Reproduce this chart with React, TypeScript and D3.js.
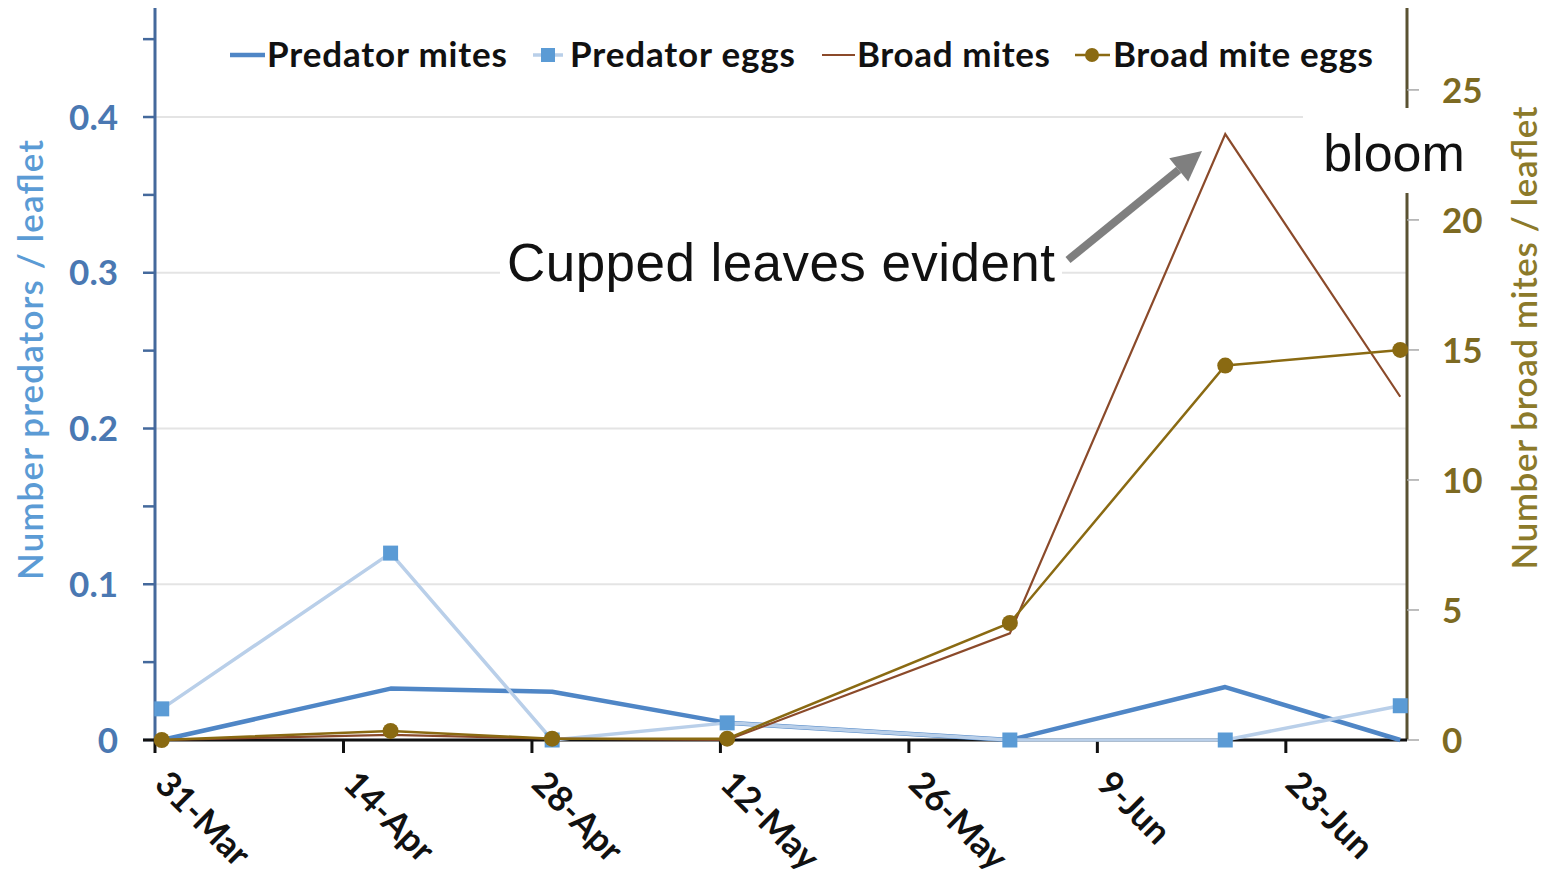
import React from "react";
import * as d3 from "d3";

// ---- data ----
const sampleDates = ["31-Mar-2019", "17-Apr-2019", "29-Apr-2019", "12-May-2019", "2-Jun-2019", "18-Jun-2019", "1-Jul-2019"];
const predatorMites = [0, 0.033, 0.031, 0.011, 0, 0.034, 0];
const predatorEggs = [0.02, 0.12, 0, 0.011, 0, 0, 0.022];
const broadMites = [0, 0.2, 0.05, 0, 4.1, 23.3, 13.2];
const broadMiteEggs = [0, 0.35, 0.05, 0.05, 4.5, 14.4, 15.0];
const xTickLabels = ["31-Mar", "14-Apr", "28-Apr", "12-May", "26-May", "9-Jun", "23-Jun"];
const leftTickValues = [0, 0.1, 0.2, 0.3, 0.4];
const leftMinorTicks = [0, 0.05, 0.1, 0.15, 0.2, 0.25, 0.3, 0.35, 0.4, 0.45];
const rightTickValues = [0, 5, 10, 15, 20, 25];
const legendLabels = ["Predator mites", "Predator eggs", "Broad mites", "Broad mite eggs"];
const axisStart = "31-Mar-2019";
const axisEnd = "2-Jul-2019";
const leftMax = 0.47;
const rightMax = 28.15;

const parse = d3.timeParse("%d-%b-%Y");

const W = 1551;
const H = 879;
const X0 = 155;
const X1 = 1407;
const Y0 = 740;
const Y1 = 8;

const C = {
  predMites: "#4f86c6",
  predEggsLine: "#b9cfe9",
  predEggsMark: "#5b9bd5",
  broadMites: "#8b4a2a",
  broadEggs: "#8a6a12",
  leftAxis: "#44699c",
  leftLabel: "#4a78b2",
  leftTitle: "#5b9bd5",
  rightAxis: "#5a5232",
  rightLabel: "#7d6a22",
  rightTitle: "#8c7a2a",
  grid: "#e4e4e4",
};

const FONT = "Lato, 'Noto Sans', sans-serif";
const ARIAL = "'Liberation Sans', Arial, sans-serif";

export default function App() {
  const x = d3.scaleTime().domain([parse(axisStart)!, parse(axisEnd)!]).range([X0, X1]);
  const yL = d3.scaleLinear().domain([0, leftMax]).range([Y0, Y1]);
  const yR = d3.scaleLinear().domain([0, rightMax]).range([Y0, Y1]);

  const px = (s: string) => x(d3.timeHour.offset(parse(s)!, 12));
  const pts = (vals: number[], y: d3.ScaleLinear<number, number>) =>
    vals.map((v, i) => [px(sampleDates[i]), y(v)] as [number, number]);

  const line = d3.line<[number, number]>().x((d) => d[0]).y((d) => d[1]);

  const pmPts = pts(predatorMites, yL);
  const pePts = pts(predatorEggs, yL);
  const bmPts = pts(broadMites, yR);
  const bePts = pts(broadMiteEggs, yR);

  const tickDates = xTickLabels.map((l) => parse(l + "-2019")!);

  // arrow
  const ax0 = 1068, ay0 = 260, ax1 = 1202, ay1 = 151;
  const ang = Math.atan2(ay1 - ay0, ax1 - ax0);
  const headL = 30, headW = 15;
  const bx = ax1 - headL * Math.cos(ang);
  const by = ay1 - headL * Math.sin(ang);
  const nx = -Math.sin(ang), ny = Math.cos(ang);
  const head = `${ax1},${ay1} ${bx + nx * headW},${by + ny * headW} ${bx - nx * headW},${by - ny * headW}`;

  const legY = 55;
  const legTextY = 67;
  const legStyle = { fontFamily: FONT, fontWeight: 700, fontSize: 35, fill: "#111" } as const;

  return (
    <div style={{ position: "absolute", left: 0, top: 0, width: W, height: H, background: "#fff" }}>
      <svg width={W} height={H} viewBox={`0 0 ${W} ${H}`} style={{ display: "block" }}>
        <rect x={0} y={0} width={W} height={H} fill="#fff" />
        {/* gridlines */}
        {leftTickValues.filter((v) => v > 0).map((v) => (
          <line key={"g" + v} x1={X0} x2={X1} y1={yL(v)} y2={yL(v)} stroke={C.grid} strokeWidth={2} />
        ))}
        {/* left axis */}
        <line x1={X0} x2={X0} y1={Y1} y2={Y0} stroke={C.leftAxis} strokeWidth={3} />
        {leftMinorTicks.map((v) => (
          <line key={"lt" + v} x1={X0 - 12} x2={X0} y1={yL(v)} y2={yL(v)} stroke={C.leftAxis} strokeWidth={2.5} />
        ))}
        {leftTickValues.map((v) => (
          <text key={"ll" + v} x={118} y={yL(v)} dy="0.36em" textAnchor="end" fontFamily={FONT} fontWeight={700} fontSize={35} fill={C.leftLabel}>
            {v === 0 ? "0" : d3.format(".1f")(v)}
          </text>
        ))}
        <text transform={`translate(43,360) rotate(-90)`} textAnchor="middle" fontFamily={FONT} fontWeight={600} fontSize={35} fill={C.leftTitle} textLength={440}>
          Number predators / leaflet
        </text>
        {/* right axis */}
        <line x1={X1} x2={X1} y1={Y1} y2={Y0} stroke={C.rightAxis} strokeWidth={3} />
        {rightTickValues.map((v) => (
          <line key={"rt" + v} x1={X1} x2={X1 + 12} y1={yR(v)} y2={yR(v)} stroke="#a8a8a8" strokeWidth={1.5} />
        ))}
        {rightTickValues.map((v) => (
          <text key={"rl" + v} x={1442} y={yR(v)} dy="0.36em" textAnchor="start" fontFamily={FONT} fontWeight={700} fontSize={35} fill={C.rightLabel}>
            {v}
          </text>
        ))}
        <text transform={`translate(1537,338) rotate(-90)`} textAnchor="middle" fontFamily={FONT} fontWeight={600} fontSize={35} fill={C.rightTitle} textLength={463}>
          Number broad mites / leaflet
        </text>
        {/* x axis */}
        <line x1={X0 - 12} x2={X1} y1={Y0} y2={Y0} stroke="#111" strokeWidth={3} />
        {tickDates.map((d, i) => (
          <line key={"xt" + i} x1={x(d)} x2={x(d)} y1={Y0} y2={Y0 + 13} stroke="#111" strokeWidth={3} />
        ))}
        {tickDates.map((d, i) => (
          <text key={"xl" + i} transform={`translate(${x(d) - 2},786) rotate(45)`} textAnchor="start" fontFamily={FONT} fontWeight={700} fontSize={35} fill="#111">
            {xTickLabels[i]}
          </text>
        ))}
        {/* series */}
        <path d={line(pmPts)!} fill="none" stroke={C.predMites} strokeWidth={4.5} strokeLinejoin="round" />
        <path d={line(pePts)!} fill="none" stroke={C.predEggsLine} strokeWidth={3.5} strokeLinejoin="round" />
        {pePts.map((p, i) => (
          <rect key={"pe" + i} x={p[0] - 7.5} y={p[1] - 7.5} width={15} height={15} fill={C.predEggsMark} />
        ))}
        <path d={line(bmPts)!} fill="none" stroke={C.broadMites} strokeWidth={2.2} strokeLinejoin="miter" />
        <path d={line(bePts)!} fill="none" stroke={C.broadEggs} strokeWidth={2.5} />
        {bePts.map((p, i) => (
          <circle key={"be" + i} cx={p[0]} cy={p[1]} r={8} fill={C.broadEggs} />
        ))}
        {/* annotations */}
        <rect x={500} y={232} width={562} height={64} fill="#fff" />
        <text x={507} y={281} fontFamily={ARIAL} fontSize={53} fill="#111" textLength={548}>Cupped leaves evident</text>
        <line x1={ax0} y1={ay0} x2={bx} y2={by} stroke="#7f7f7f" strokeWidth={8} />
        <polygon points={head} fill="#7f7f7f" />
        <rect x={1303} y={108} width={180} height={85} fill="#fff" />
        <text x={1394} y={171} textAnchor="middle" fontFamily={ARIAL} fontSize={52} fill="#111">bloom</text>
        {/* legend */}
        <line x1={230} x2={265} y1={legY} y2={legY} stroke={C.predMites} strokeWidth={4.5} />
        <text x={267} y={legTextY} {...legStyle} textLength={240}>{legendLabels[0]}</text>
        <line x1={533} x2={563} y1={legY} y2={legY} stroke={C.predEggsLine} strokeWidth={3.5} />
        <rect x={541} y={legY - 7} width={14} height={14} fill={C.predEggsMark} />
        <text x={570} y={legTextY} {...legStyle} textLength={225}>{legendLabels[1]}</text>
        <line x1={822} x2={855} y1={legY} y2={legY} stroke={C.broadMites} strokeWidth={2.2} />
        <text x={857} y={legTextY} {...legStyle} textLength={193}>{legendLabels[2]}</text>
        <line x1={1075} x2={1110} y1={legY} y2={legY} stroke={C.broadEggs} strokeWidth={2.5} />
        <circle cx={1092} cy={legY} r={7} fill={C.broadEggs} />
        <text x={1113} y={legTextY} {...legStyle} textLength={260}>{legendLabels[3]}</text>
      </svg>
    </div>
  );
}
